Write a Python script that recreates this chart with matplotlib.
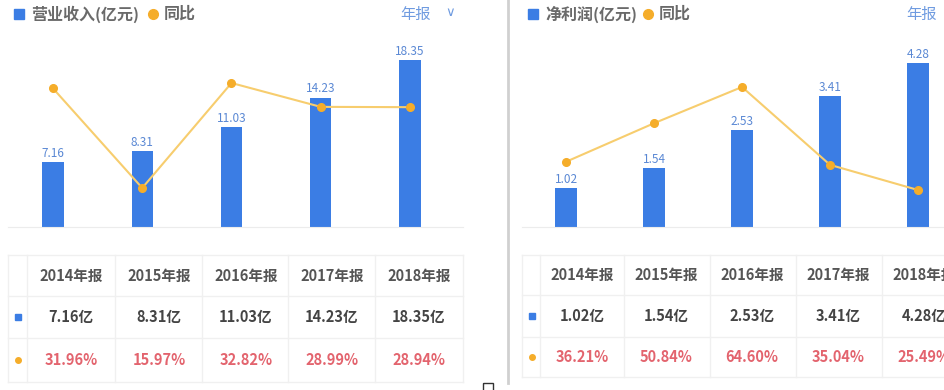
import matplotlib.pyplot as plt

plt.rcParams['font.family'] = ['Noto Sans CJK SC', 'DejaVu Sans']

# dados
anos = ['2014年报', '2015年报', '2016年报', '2017年报', '2018年报']
receita = [7.16, 8.31, 11.03, 14.23, 18.35]
receita_yoy = [31.96, 15.97, 32.82, 28.99, 28.94]
lucro = [1.02, 1.54, 2.53, 3.41, 4.28]
lucro_yoy = [36.21, 50.84, 64.60, 35.04, 25.49]

AZUL = '#3b7de4'
AZUL_TXT = '#5a88d4'
LARANJA = '#f5ad2a'
LINHA = '#f7cd6e'
VERMELHO = '#e3646e'
CINZA = '#f0f0f0'

W, H = 944, 390
fig = plt.figure(figsize=(W / 100, H / 100), dpi=100)


def eixo_px(x0, x1, ytop, ybase):
    return fig.add_axes([x0 / W, (H - ybase) / H, (x1 - x0) / W, (ybase - ytop) / H])


def painel(x0, x1, xlim, ylim_bar, ylim_lin, valores, yoy):
    ax = eixo_px(x0, x1, 40, 227)
    xs = list(range(len(valores)))
    ax.bar(xs, valores, width=0.24, color=AZUL, zorder=2)
    for x, v in zip(xs, valores):
        ax.annotate(f'{v:.2f}', (x, v), xytext=(0, 1.5), textcoords='offset points',
                    ha='center', va='bottom', fontsize=8.5, color=AZUL_TXT)
    ax.set_xlim(*xlim)
    ax.set_ylim(*ylim_bar)
    for s in ['top', 'right', 'left']:
        ax.spines[s].set_visible(False)
    ax.spines['bottom'].set_color('#ececec')
    ax.set_xticks([])
    ax.set_yticks([])
    ax.patch.set_alpha(0)
    ax2 = ax.twinx()
    ax2.plot(xs, yoy, color=LINHA, lw=1.5, marker='o', ms=5.5,
             mfc=LARANJA, mec=LARANJA, zorder=3)
    ax2.set_ylim(*ylim_lin)
    ax2.axis('off')


painel(8, 463, (-0.504, 4.594), (0, 20.55), (9.71, 39.72), receita, receita_yoy)
painel(522, 944, (-0.5, 4.295), (0, 4.88), (11.45, 82.44), lucro, lucro_yoy)

# camada de texto/tabela em pixels
ov = fig.add_axes([0, 0, 1, 1])
ov.set_xlim(0, W)
ov.set_ylim(H, 0)
ov.axis('off')
ov.patch.set_alpha(0)

# divisor
ov.plot([508, 508], [0, 383], color='#d0d0d0', lw=2)
ov.add_patch(plt.Rectangle((483, 383), 10, 9, fill=False, ec='#333333', lw=1))

# legendas
def legenda(x, nome, xdot, xtxt2, xano, seta):
    ov.plot([x], [14], marker='s', ms=6.5, color=AZUL, ls='none')
    ov.text(x + 12, 14, nome, fontsize=11.5, color='#6a6a6a', va='center', ha='left',
            fontweight='bold')
    ov.plot([xdot], [14], marker='o', ms=7, color=LARANJA, ls='none')
    ov.text(xtxt2, 14, '同比', fontsize=11.5, color='#6a6a6a', va='center', ha='left',
            fontweight='bold')
    ov.text(xano, 14, '年报', fontsize=11, color='#6f9be0', va='center', ha='left')
    if seta:
        ov.text(xano + 45, 13, '∨', fontsize=9.5, color='#6f9be0', va='center',
                ha='left', family='DejaVu Sans')

legenda(19, '营业收入(亿元)', 153, 164, 400, True)
legenda(533, '净利润(亿元)', 648, 659, 906, False)

# tabelas
def tabela(xl, xr, xcols, ys, valores, yoy):
    for y in ys:
        ov.plot([xl, xr], [y, y], color=CINZA, lw=1)
    for x in [xl] + xcols:
        ov.plot([x, x], [ys[0], ys[-1]], color=CINZA, lw=1)
    ov.plot([xl + 10], [(ys[1] + ys[2]) / 2], marker='s', ms=4, color=AZUL, ls='none')
    ov.plot([xl + 10], [(ys[2] + ys[3]) / 2], marker='o', ms=4, color=LARANJA, ls='none')
    larg = xcols[1] - xcols[0]
    for i in range(len(anos)):
        cx = xcols[i] + larg / 2
        ov.text(cx, (ys[0] + ys[1]) / 2, anos[i], fontsize=10.5, color='#555555',
                ha='center', va='center', fontweight='bold')
        ov.text(cx, (ys[1] + ys[2]) / 2, f'{valores[i]:.2f}亿', fontsize=10.5,
                color='#444444', ha='center', va='center', fontweight='bold')
        ov.text(cx, (ys[2] + ys[3]) / 2, f'{yoy[i]:.2f}%', fontsize=10.5,
                color=VERMELHO, ha='center', va='center', fontweight='bold')

tabela(8, 463, [27, 115, 202, 288, 375, 463], [255, 296, 338, 382], receita, receita_yoy)
tabela(522, 960, [540, 624, 710, 796, 882, 968], [255, 295, 337, 377], lucro, lucro_yoy)

fig.savefig('out.png', dpi=100)
